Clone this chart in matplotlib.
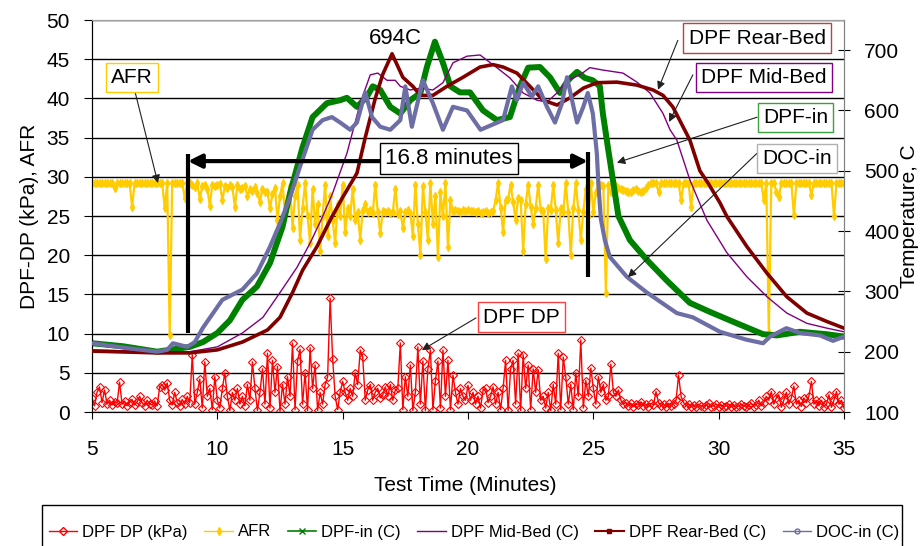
import numpy as np
import matplotlib
matplotlib.use("Agg")
import matplotlib.pyplot as plt
from matplotlib.lines import Line2D
from matplotlib.patches import Rectangle

plt.rcParams['font.family'] = ['Liberation Sans', 'DejaVu Sans']

# ---------------- data ----------------
# logged every 0.1 min from t = 5 min
sample_start = 5.0
sample_step = 0.1

dpf_dp = [
    1.8, 0.8, 2.5, 3.2, 1.2, 2.8, 1.0, 1.5, 0.9, 1.3,
    1.1, 3.8, 1.0, 1.4, 0.8, 1.2, 1.6, 0.9, 1.3, 2.0,
    1.2, 0.8, 1.5, 1.0, 0.9, 1.4, 0.8, 3.2, 3.5, 2.8,
    3.7, 1.5, 0.9, 2.5, 1.2, 0.8, 1.6, 1.0, 2.0, 1.2,
    7.3, 1.0, 2.5, 4.2, 0.5, 6.4, 2.0, 3.0, 0.3, 4.5,
    1.5, 0.5, 3.0, 5.0, 2.0, 0.2, 2.5, 1.5, 3.0, 1.0,
    2.0, 0.8, 3.5, 1.5, 6.4, 3.0, 0.2, 2.5, 5.5, 1.0,
    7.5, 0.5, 6.6, 2.5, 5.8, 0.1, 3.5, 1.0, 4.5, 2.0,
    8.8, 0.3, 6.5, 8.0, 1.0, 5.0, 0.2, 8.2, 3.0, 6.0,
    0.2, 2.5, 1.0, 3.5, 4.5, 14.5, 6.8, 2.0, 0.3, 2.5,
    3.9, 2.5, 1.5, 3.0, 2.0, 5.0, 3.5, 7.9, 7.0, 1.5,
    2.8, 3.5, 1.5, 2.5, 3.0, 1.8, 2.2, 3.2, 2.0, 3.5,
    1.5, 2.8, 3.0, 8.8, 0.3, 4.5, 2.0, 6.0, 0.2, 2.5,
    8.3, 1.0, 6.5, 0.2, 5.5, 7.9, 0.3, 4.0, 6.5, 0.5,
    7.9, 2.0, 6.6, 0.3, 4.7, 2.5, 1.0, 3.0, 2.0, 1.5,
    3.4, 1.5, 2.5, 1.0, 2.0, 0.5, 2.8, 3.0, 1.2, 2.0,
    3.2, 1.0, 2.5, 0.3, 3.0, 6.6, 0.2, 5.5, 6.6, 1.0,
    7.5, 0.2, 7.3, 3.0, 6.0, 0.3, 5.5, 2.5, 5.4, 1.5,
    2.0, 0.5, 2.5, 0.2, 3.5, 1.0, 7.5, 0.3, 7.0, 4.5,
    1.0, 3.5, 0.3, 5.0, 2.0, 9.2, 0.5, 4.0, 2.0, 5.6,
    3.0, 1.0, 4.5, 2.5, 3.5, 1.5, 2.0, 6.1, 2.5, 2.0,
    2.8, 1.5, 1.0, 1.2, 0.8, 1.1, 0.7, 1.0, 0.9, 1.3,
    0.8, 1.0, 0.7, 1.1, 0.9, 2.6, 1.2, 0.8, 1.0, 0.7,
    1.1, 0.8, 1.0, 1.5, 4.7, 2.0, 1.2, 0.8, 1.0, 0.7,
    0.9, 0.7, 1.0, 0.8, 0.6, 0.9, 1.1, 0.7, 0.8, 1.0,
    0.7, 0.9, 0.6, 0.8, 1.0, 0.7, 0.9, 0.6, 0.8, 1.0,
    0.8, 0.6, 0.9, 1.1, 0.7, 0.9, 1.5, 0.8, 1.2, 2.0,
    1.5, 2.6, 1.0, 1.8, 2.2, 0.6, 1.5, 2.5, 1.0, 1.8,
    3.3, 1.0, 1.5, 0.7, 1.8, 1.2, 2.0, 3.9, 1.0, 1.5,
    0.8, 1.5, 0.7, 1.0, 2.2, 0.6, 1.5, 2.6, 1.0, 1.5,
    0.5]

afr = [
    29.2, 29.2, 29.2, 29.2, 29.2, 29.2, 29.2, 29.2, 29.2, 28.6,
    29.2, 29.2, 29.2, 29.2, 29.2, 29.2, 26.2, 29.2, 29.2, 29.2,
    29.2, 29.2, 29.2, 29.2, 29.2, 29.2, 29.2, 29.2, 29.2, 26.0,
    29.2, 9.8, 29.2, 29.2, 29.2, 29.2, 29.2, 27.3, 29.2, 29.2,
    29.0, 28.7, 29.2, 27.2, 28.8, 29.0, 28.5, 26.3, 29.0, 28.8,
    28.9, 29.1, 27.0, 28.8, 28.6, 29.0, 28.7, 26.2, 28.9, 28.5,
    28.6, 28.8, 27.6, 28.4, 28.2, 28.7, 27.9, 26.8, 28.5, 28.0,
    28.0, 26.0, 27.8, 28.6, 24.5, 27.5, 29.2, 25.5, 27.0, 28.8,
    23.5, 27.5, 29.0, 22.0, 26.0, 29.2, 25.0, 21.5, 28.5, 24.0,
    26.5, 20.5, 25.0, 29.0, 22.5, 27.5, 24.5, 21.5, 26.5, 25.0,
    29.0, 23.0, 26.0, 25.0, 28.5, 24.5, 25.5, 22.0, 25.8, 26.5,
    25.5, 25.8, 25.4, 29.0, 25.5, 22.8, 25.6, 25.5, 25.7, 25.4,
    25.5, 28.5, 25.3, 25.6, 23.5, 25.5, 25.8, 25.4, 22.5, 29.0,
    24.0, 20.0, 28.8, 25.5, 22.0, 29.2, 24.0, 27.5, 19.8, 28.0,
    25.0, 29.2, 21.0, 27.0, 25.6, 25.8, 25.7, 25.5, 25.8, 25.6,
    25.8, 25.6, 25.7, 25.5, 25.6, 25.4, 25.5, 25.6, 25.4, 25.5,
    25.6, 27.0, 29.2, 26.0, 23.0, 27.0, 27.2, 29.0, 26.8, 24.5,
    27.3, 27.0, 20.5, 26.5, 29.0, 26.2, 24.0, 26.0, 29.0, 25.8,
    25.6, 19.5, 26.0, 25.8, 29.0, 25.8, 21.5, 26.0, 25.5, 29.2,
    25.5, 20.0, 26.0, 29.2, 25.8, 22.0, 25.5, 28.5, 25.0, 29.2,
    25.5, 28.0, 29.2, 29.0, 28.8, 15.2, 29.0, 28.0, 29.0, 28.8,
    28.6, 28.5, 28.3, 28.2, 28.0, 28.1, 28.3, 28.5, 28.2, 28.0,
    28.2, 28.6, 29.0, 29.2, 29.2, 29.2, 28.1, 29.2, 29.2, 29.2,
    29.2, 29.2, 29.2, 29.2, 29.2, 27.0, 29.2, 29.2, 29.2, 26.1,
    29.2, 29.2, 29.2, 29.2, 29.2, 29.2, 29.2, 29.2, 29.2, 29.2,
    29.2, 29.2, 29.2, 29.2, 29.2, 29.2, 29.2, 29.2, 29.2, 29.2,
    29.2, 29.2, 29.2, 29.2, 29.2, 29.2, 29.2, 29.2, 27.0, 29.2,
    10.1, 29.2, 29.2, 28.1, 27.4, 29.2, 29.2, 29.2, 29.2, 29.2,
    25.1, 29.2, 29.2, 29.2, 29.2, 29.2, 29.2, 27.7, 29.2, 29.2,
    29.2, 29.2, 29.2, 29.2, 29.2, 29.2, 25.0, 29.2, 29.2, 29.2,
    29.2]

dpf_in_t = [5.0, 6.24, 7.6, 8.9, 9.43, 10.0, 10.5, 11.0, 11.58, 12.1, 12.6, 12.9, 13.4, 13.8, 14.37,
            14.9, 15.17, 15.57, 15.97, 16.2, 16.5, 16.9, 17.3, 17.7, 18.1, 18.36, 18.68, 19.0, 19.3, 19.68,
            20.08, 20.6, 21.15, 21.67, 22.07, 22.4, 22.87, 23.27, 23.67, 23.99, 24.35, 24.66, 24.98, 25.26, 25.38,
            25.58, 25.78, 26.0, 26.46, 27.14, 27.93, 28.85, 29.65, 30.73, 31.77, 32.32, 33.24, 34.3, 35.0]
dpf_in = [214, 209, 200, 208, 216, 231, 252, 286, 308, 347, 407, 463, 539, 589, 612,
          617, 621, 606, 623, 640, 634, 606, 595, 617, 629, 672, 714, 679, 640, 630,
          630, 600, 584, 589, 640, 671, 672, 655, 629, 650, 664, 654, 650, 640, 595,
          539, 485, 425, 385, 352, 318, 281, 266, 247, 229, 227, 233, 229, 225]

mid_t = [5.0, 7.6, 8.9, 10.0, 11.0, 11.82, 12.5, 13.18, 13.7, 14.2, 14.6, 15.17, 15.7, 16.1, 16.4,
         16.77, 17.1, 17.3, 17.7, 18.1, 18.6, 19.0, 19.4, 19.96, 20.48, 21.15, 21.67, 22.2, 22.75, 23.15,
         23.55, 23.95, 24.47, 24.86, 25.38, 26.18, 26.74, 27.26, 27.78, 28.06, 28.33, 28.85, 29.53, 30.33, 31.13,
         31.93, 32.72, 33.52, 34.32, 35.0]
mid_bed = [203, 200, 200, 208, 231, 257, 298, 340, 380, 424, 463, 529, 612, 659, 662,
           650, 650, 640, 634, 637, 634, 646, 679, 690, 692, 671, 654, 629, 617, 614,
           629, 650, 659, 671, 667, 662, 647, 629, 595, 568, 551, 485, 418, 364, 324,
           291, 264, 247, 239, 233]

rear_t = [5.0, 7.6, 8.9, 10.0, 11.0, 12.0, 12.5, 13.0, 13.4, 13.97, 14.5, 15.0, 15.57, 15.9, 16.3,
          16.6, 16.97, 17.4, 17.8, 18.1, 18.6, 19.16, 19.8, 20.48, 21.0, 21.4, 21.95, 22.47, 23.0, 23.55,
          24.07, 24.6, 25.14, 25.94, 26.74, 27.38, 27.78, 28.17, 28.85, 29.25, 29.6, 30.05, 30.33, 31.13, 31.93,
          32.72, 33.52, 34.32, 35.0]
rear_bed = [201, 198, 198, 203, 216, 236, 257, 298, 335, 374, 418, 456, 496, 555, 620,
            660, 694, 655, 640, 625, 625, 640, 655, 672, 676, 672, 662, 640, 617, 609,
            621, 637, 646, 647, 642, 634, 625, 606, 551, 500, 478, 447, 424, 374, 330,
            291, 264, 250, 239]

doc_t = [5.0, 6.2, 7.6, 8.0, 8.23, 8.8, 9.1, 9.43, 10.2, 11.0, 11.58, 12.1, 12.5, 12.9, 13.3,
         13.8, 14.2, 14.57, 14.9, 15.3, 15.57, 15.9, 16.17, 16.5, 16.9, 17.3, 17.5, 17.76, 18.2, 18.6,
         19.0, 19.4, 19.96, 20.5, 21.4, 21.75, 21.95, 22.2, 22.55, 22.8, 23.15, 23.47, 23.75, 23.95, 24.15,
         24.35, 24.6, 24.78, 24.98, 25.14, 25.2, 25.3, 25.46, 25.66, 26.34, 27.14, 28.33, 28.97, 30.05, 31.1,
         31.77, 32.05, 32.7, 33.24, 34.04, 34.56, 35.0]
doc_in = [214, 207, 200, 203, 214, 208, 216, 240, 286, 303, 330, 374, 413, 456, 507,
          568, 584, 589, 580, 568, 580, 630, 589, 573, 568, 584, 640, 573, 650, 612,
          568, 606, 600, 568, 584, 640, 617, 646, 623, 640, 606, 580, 612, 655, 617,
          580, 606, 629, 595, 529, 480, 420, 385, 357, 324, 298, 264, 257, 233, 220,
          214, 225, 239, 231, 227, 218, 225]

x_ticks = [5, 10, 15, 20, 25, 30, 35]
left_ticks = [0, 5, 10, 15, 20, 25, 30, 35, 40, 45, 50]
right_ticks = [100, 200, 300, 400, 500, 600, 700]

legend_labels = ['DPF DP (kPa)', 'AFR', 'DPF-in (C)', 'DPF Mid-Bed (C)', 'DPF Rear-Bed (C)', 'DOC-in (C)']

# ---------------- colours ----------------
C_DP = '#FF0000'
C_AFR = '#FFCC00'
C_IN = '#008000'
C_MID = '#800080'
C_REAR = '#800000'
C_DOC = '#6E6EA6'

# ---------------- figure ----------------
fig = plt.figure(figsize=(9.21, 5.46), dpi=100)
W, H = 921, 546
ax = fig.add_axes([92 / W, 1 - 412 / H, (844 - 92) / W, (412 - 20) / H])
ax2 = ax.twinx()

sample_time = sample_start + sample_step * np.arange(len(afr))

ax.plot(sample_time, afr, color=C_AFR, lw=1.6, marker='d', ms=4, mec=C_AFR, zorder=3)
ax.plot(sample_time, dpf_dp, color=C_DP, lw=1.0, marker='D', ms=4.5, mfc='none', mec=C_DP, mew=0.8, zorder=4)

ax.set_xlim(5, 35)
ax.set_ylim(0, 50)
ax.set_xticks(x_ticks)
ax.set_yticks(left_ticks)
ax.yaxis.grid(True, color='black', lw=1.0)
ax.set_axisbelow(True)

ax2.plot(dpf_in_t, dpf_in, color=C_IN, lw=4.3, solid_joinstyle='round', zorder=2)
ax2.plot(mid_t, mid_bed, color=C_MID, lw=1.0, zorder=3)
ax2.plot(rear_t, rear_bed, color=C_REAR, lw=2.6, solid_joinstyle='round', zorder=4)
ax2.plot(doc_t, doc_in, color=C_DOC, lw=3.0, solid_joinstyle='round', zorder=5)

# ---------------- axes styling ----------------
for a in (ax, ax2):
    a.spines['top'].set_color('#A0A0A0')
    a.spines['right'].set_color('#808080')
    a.spines['left'].set_color('black')
    a.spines['bottom'].set_color('black')

ax.tick_params(axis='x', direction='out', length=5, pad=15, labelsize=15)
ax.tick_params(axis='y', direction='out', length=6, pad=10, labelsize=15)
ax.set_xlabel('Test Time (Minutes)', fontsize=15)
ax.xaxis.set_label_coords((465 - 92) / 752, (412 - 476) / 392)
ax.set_ylabel('DPF-DP (kPa), AFR', fontsize=15)
ax.yaxis.set_label_coords((39 - 92) / 752, 0.5)

ax2.set_ylim(100, 750)
ax2.set_yticks(right_ticks)
ax2.tick_params(axis='y', direction='inout', length=9, pad=10, labelsize=15)
ax2.set_ylabel('Temperature, C', fontsize=15, rotation=90)
ax2.yaxis.set_label_coords((900 - 92) / 752, 0.5)

# ---------------- annotations (left-axis data coords) ----------------
tr = ax.transData
ax2.text(17.09, 47.7, '694C', transform=tr, fontsize=16, ha='center', va='center', zorder=10)

# 16.8 minute bracket
ax2.plot([8.83, 8.83], [10.1, 32.9], transform=tr, color='black', lw=3, zorder=8, solid_capstyle='butt')
ax2.plot([24.78, 24.78], [17.2, 33.2], transform=tr, color='black', lw=3, zorder=8, solid_capstyle='butt')
ax2.annotate('', xy=(8.83, 32.0), xytext=(24.78, 32.0), xycoords=tr, textcoords=tr,
             arrowprops=dict(arrowstyle='<|-|>', lw=3, color='black', mutation_scale=20,
                             shrinkA=0, shrinkB=0), zorder=8)
ax2.text(19.24, 32.3, '16.8 minutes', transform=tr, fontsize=16, ha='center', va='center', zorder=11,
         bbox=dict(boxstyle='square,pad=0.22', fc='white', ec='black', lw=1))

boxes = [
    ('AFR', 6.58, 42.7, C_AFR, (6.72, 40.8), (7.63, 29.2)),
    ('DPF Rear-Bed', 31.53, 47.7, '#C04040', (28.37, 47.4), (27.58, 41.1)),
    ('DPF Mid-Bed', 31.80, 42.7, C_MID, (28.97, 43.0), (28.02, 37.0)),
    ('DPF-in', 33.06, 37.6, '#3CA03C', (31.53, 37.6), (25.94, 31.8)),
    ('DOC-in', 33.14, 32.3, '#B0B0B0', (31.53, 33.0), (26.38, 17.2)),
    ('DPF DP', 22.13, 12.1, '#FF4040', (20.32, 12.0), (18.16, 7.9)),
]
for label, tx, ty, ec, start, tip in boxes:
    ax2.annotate('', xy=tip, xytext=start, xycoords=tr, textcoords=tr,
                 arrowprops=dict(arrowstyle='-|>', lw=0.8, color='#202020', mutation_scale=12,
                                 shrinkA=0, shrinkB=0), zorder=9)
    ax2.text(tx, ty, label, transform=tr, fontsize=15, ha='center', va='center', zorder=11,
             bbox=dict(boxstyle='square,pad=0.25', fc='white', ec=ec, lw=1))

ax2.set_ylim(100, 750)
ax.set_xlim(5, 35)

# ---------------- legend ----------------
handles = [
    Line2D([], [], color=C_DP, lw=1, marker='D', ms=4.5, mfc='none', mec=C_DP),
    Line2D([], [], color=C_AFR, lw=1, marker='d', ms=4),
    Line2D([], [], color=C_IN, lw=1.2, marker='x', ms=4),
    Line2D([], [], color=C_MID, lw=1),
    Line2D([], [], color=C_REAR, lw=1.5, marker='s', ms=2.5),
    Line2D([], [], color=C_DOC, lw=1, marker='o', ms=3.5, mfc='none'),
]
fig.legend(handles, legend_labels, loc='center', bbox_to_anchor=(474 / W, 1 - 532 / H), ncol=6,
           frameon=False, fontsize=12, handlelength=1.7, handletextpad=0.3, columnspacing=1.0)
fig.add_artist(Rectangle((42 / W, -0.05), (902 - 42) / W, (546 - 505) / H + 0.05,
                         transform=fig.transFigure, fill=False, ec='black', lw=1))

fig.savefig('out.png', dpi=100)
